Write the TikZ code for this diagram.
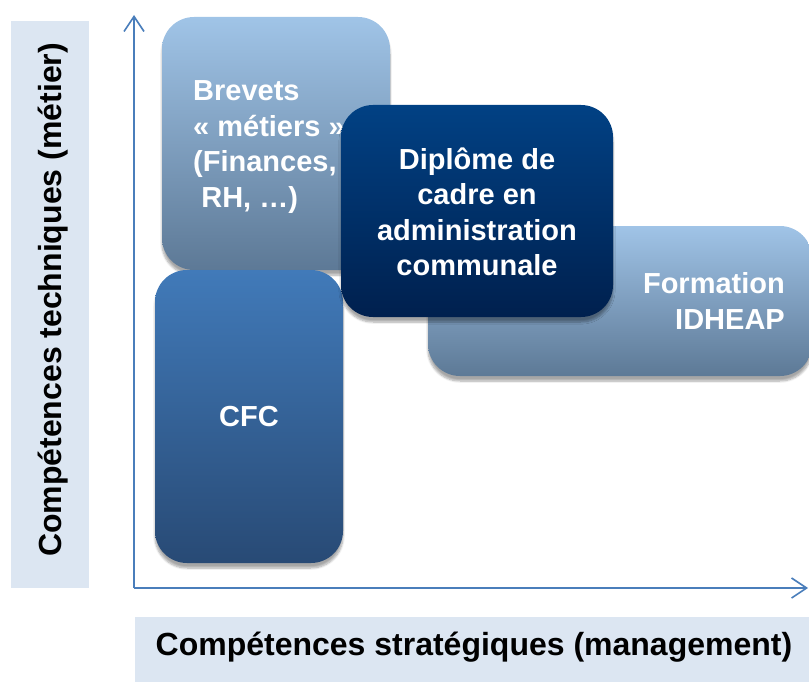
\documentclass[tikz,border=0pt]{standalone}
\usepackage{fontspec}
\setmainfont{Liberation Sans}
\usetikzlibrary{arrows.meta,shadows.blur}
\definecolor{band}{HTML}{DCE6F2}
\definecolor{axisblue}{HTML}{4A7EBB}
\definecolor{lightTop}{HTML}{A0C4E7}
\definecolor{lightBot}{HTML}{5D7996}
\definecolor{midTop}{HTML}{417AB9}
\definecolor{midBot}{HTML}{284A75}
\definecolor{darkTop}{HTML}{014184}
\definecolor{darkBot}{HTML}{00204E}
\tikzset{
  box/.style={rectangle, rounded corners=32pt, inner sep=0pt,
    blur shadow={shadow xshift=0pt, shadow yshift=-5pt, shadow blur steps=8, shadow opacity=35}},
  lightbox/.style={box, top color=lightTop, bottom color=lightBot},
  midbox/.style={box, top color=midTop, bottom color=midBot},
  darkbox/.style={box, top color=darkTop, bottom color=darkBot},
  boxtext/.style={text=white, font=\bfseries\fontsize{29}{35.5}\selectfont, inner sep=0pt},
  bandbox/.style={fill=band, draw=none, inner sep=0pt},
  axislabel/.style={text=black, font=\bfseries\fontsize{32}{38}\selectfont, inner sep=0pt},
  axisline/.style={draw=axisblue, line width=1.6pt, -{Straight Barb[length=15pt,width=20pt,line width=1.6pt]}}
}
\begin{document}
\begin{tikzpicture}[x=1pt,y=-1pt]
\useasboundingbox (0,0) rectangle (809,682);
% bands
\node[bandbox, minimum width=78pt, minimum height=567pt] (yband) at (50,304.5) {};
\node[bandbox, minimum width=675pt, minimum height=66pt] (xband) at (472,650) {};
\node[axislabel, rotate=90] (ylab) at (53,300) {Compétences techniques (métier)};
\node[axislabel] (xlab) at (474,647) {Compétences stratégiques (management)};
% axes
\coordinate (origin) at (134,588);
\coordinate (ytip) at (134,15);
\coordinate (xtip) at (808,588);
\draw[axisline] (origin) -- (ytip);
\draw[axisline] (origin) -- (xtip);
% boxes
\node[lightbox, minimum width=228pt, minimum height=253pt] (brevets) at (276,143.5) {};
\node[boxtext, align=left, anchor=west] (brevetsT) at (193,147) {Brevets\\« métiers »\\(Finances,\\\hspace*{0.28em}RH, …)};
\node[midbox, minimum width=188pt, minimum height=293pt] (cfc) at (249,416.5) {};
\node[boxtext] (cfcT) at (cfc.center) {CFC};
\node[lightbox, minimum width=384pt, minimum height=150pt] (idheap) at (620,301) {};
\node[boxtext, align=right, anchor=east] (idheapT) at (785,301) {Formation\\IDHEAP};
\node[darkbox, minimum width=272pt, minimum height=212pt] (diplome) at (477,211) {};
\node[boxtext, align=center] (diplomeT) at (477,212) {Diplôme de\\cadre en\\administration\\communale};
\end{tikzpicture}
\end{document}
